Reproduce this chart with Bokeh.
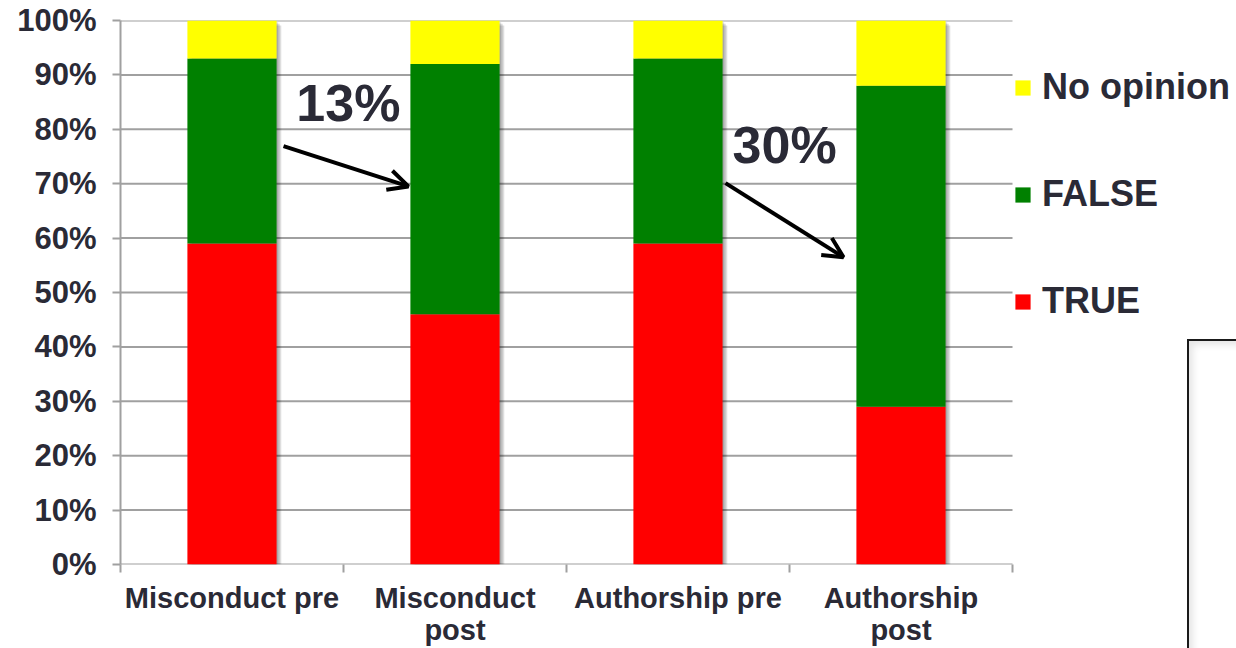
from bokeh.plotting import figure
from bokeh.models import (Range1d, FixedTicker, ColumnDataSource, Legend, LegendItem,
                          Arrow, OpenHead, PrintfTickFormatter, InlineStyleSheet)
from bokeh.core.properties import value
from bokeh.embed import file_html
from bokeh.resources import INLINE

# Survey responses, percent of respondents per group
categories = ["Misconduct pre", "Misconduct post", "Authorship pre", "Authorship post"]
category_labels = ["Misconduct pre", "Misconduct\npost", "Authorship pre", "Authorship\npost"]
true_pct = [59, 46, 59, 29]
false_pct = [34, 46, 34, 59]
no_opinion_pct = [7, 8, 7, 12]
y_ticks = [0, 10, 20, 30, 40, 50, 60, 70, 80, 90, 100]

FONT = "Liberation Sans"
TEXT = "#2a2a36"
GRID = "#a0a0a0"
RED, GREEN, YELLOW = "#ff0000", "#008000", "#ffff00"

WIDTH, HEIGHT = 1236, 648
LEFT, TOP, BOTTOM = 120, 20, 83
CHART_W = 892                      # pixel width taken by the four categories

n_cat = len(categories)
centers = [i + 0.5 for i in range(n_cat)]
bounds = list(range(n_cat + 1))
totals = [t + f + n for t, f, n in zip(true_pct, false_pct, no_opinion_pct)]
# the frame runs to the page edge so the legend can sit right of the bars
x_end = n_cat * (WIDTH - LEFT) / CHART_W

src = ColumnDataSource(dict(x=centers, true=true_pct, false=false_pct,
                            none=no_opinion_pct, total=totals))

# framed text panel peeking in at the lower right corner of the page
corner_panel = InlineStyleSheet(css="""
:host { position: relative; }
:host::after {
  content: "";
  position: absolute;
  left: 1187px; top: 339px; width: 49px; height: 309px;
  box-sizing: border-box;
  border-left: 2.5px solid #1a1a1a;
  border-top: 2.5px solid #1a1a1a;
  background: white;
  box-shadow: inset 6px 6px 7px -2px rgba(0,0,0,0.10);
  pointer-events: none;
}
""")

p = figure(width=WIDTH, height=HEIGHT, output_backend="svg", toolbar_location=None,
           x_range=Range1d(0, x_end), y_range=Range1d(0, 100),
           min_border_left=LEFT, min_border_right=0, min_border_top=TOP,
           min_border_bottom=BOTTOM, stylesheets=[corner_panel])
p.outline_line_color = None
p.background_fill_color = "white"
p.border_fill_color = "white"

# horizontal gridlines across the category area only
p.xgrid.visible = False
p.ygrid.visible = False
p.segment(x0=[bounds[0]] * len(y_ticks), x1=[bounds[-1]] * len(y_ticks),
          y0=y_ticks, y1=y_ticks, line_color=GRID, line_width=2)

# y axis
p.yaxis.ticker = FixedTicker(ticks=y_ticks)
p.yaxis.formatter = PrintfTickFormatter(format="%d%%")
p.yaxis.minor_tick_line_color = None
p.yaxis.major_tick_out = 8
p.yaxis.major_tick_in = 0
p.yaxis.major_tick_line_color = GRID
p.yaxis.major_tick_line_width = 2
p.yaxis.axis_line_color = GRID
p.yaxis.axis_line_width = 2
p.yaxis.major_label_text_font = FONT
p.yaxis.major_label_text_font_size = "31px"
p.yaxis.major_label_text_font_style = "bold"
p.yaxis.major_label_text_color = TEXT
p.yaxis.major_label_standoff = 16

# x axis: labels at bar centres, tick marks between categories
p.xaxis.ticker = FixedTicker(ticks=centers, minor_ticks=bounds)
p.xaxis.major_label_overrides = {c: lab for c, lab in zip(centers, category_labels)}
p.xaxis.major_tick_line_color = None
p.xaxis.major_tick_out = 0
p.xaxis.major_tick_in = 0
p.xaxis.minor_tick_out = 8
p.xaxis.minor_tick_in = 0
p.xaxis.minor_tick_line_color = GRID
p.xaxis.minor_tick_line_width = 2
p.xaxis.axis_line_color = None
p.xaxis.major_label_text_font = FONT
p.xaxis.major_label_text_font_size = "29px"
p.xaxis.major_label_text_font_style = "bold"
p.xaxis.major_label_text_color = TEXT
p.xaxis.major_label_text_line_height = 1.0
p.xaxis.major_label_standoff = 9

# soft drop shadow behind each bar
for dx, dy in [(0.007, 0.3), (0.014, 0.6), (0.021, 0.9)]:
    p.vbar(x=[c + dx for c in centers], width=0.4, top=[t - dy for t in totals],
           bottom=-dy, fill_color="#000000", fill_alpha=0.13, line_color=None)

bars = p.vbar_stack(["true", "false", "none"], x="x", width=0.4, source=src,
                    color=[RED, GREEN, YELLOW], line_color=None)

legend = Legend(items=[LegendItem(label="No opinion", renderers=[bars[2]]),
                       LegendItem(label="FALSE", renderers=[bars[1]]),
                       LegendItem(label="TRUE", renderers=[bars[0]])],
                location=(CHART_W + 1, 242))
legend.glyph_width = 19
legend.glyph_height = 19
legend.label_standoff = 10
legend.label_height = 40
legend.spacing = 65
legend.padding = 0
legend.margin = 0
legend.background_fill_alpha = 0
legend.border_line_color = None
legend.label_text_font = FONT
legend.label_text_font_size = "36px"
legend.label_text_font_style = "bold"
legend.label_text_color = TEXT
p.add_layout(legend)

# change in share answering TRUE, pre -> post
drop_misconduct = true_pct[0] - true_pct[1]
drop_authorship = true_pct[2] - true_pct[3]
p.text(x=[1.022, 2.978], y=[84.9, 77.1],
       text=[f"{drop_misconduct}%", f"{drop_authorship}%"],
       text_font=value(FONT), text_font_size="52px", text_font_style="bold",
       text_color=TEXT, text_align="center", text_baseline="alphabetic")

for xs, ys, xe, ye in [(0.731, 76.9, 1.291, 69.5), (2.713, 70.1, 3.242, 56.5)]:
    p.add_layout(Arrow(end=OpenHead(size=20, line_width=4, line_color="black"),
                       x_start=xs, y_start=ys, x_end=xe, y_end=ye,
                       line_width=4, line_color="black"))

open("out.html", "w").write(file_html(p, INLINE))
